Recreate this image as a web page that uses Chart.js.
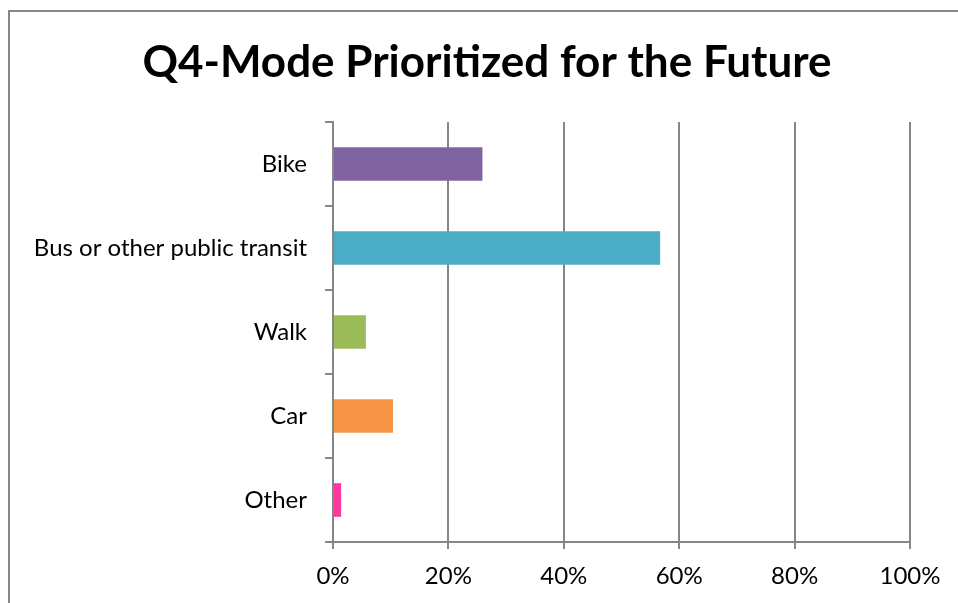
<!DOCTYPE html>
<html>
<head>
<meta charset="utf-8">
<script src="https://cdn.jsdelivr.net/npm/chart.js@4/dist/chart.umd.min.js"></script>
<style>
    html, body { margin: 0; padding: 0; background: #fff; overflow: hidden; }
    #wrap { position: relative; width: 958px; height: 603px; }
    #frame {
        position: absolute; left: 8px; top: 10px; width: 1000px; height: 700px;
        border-left: 2px solid #868686; border-top: 2px solid #868686;
    }
    canvas { position: absolute; left: 0; top: 0; }
</style>
</head>
<body>
<div id="wrap">
    <div id="frame"></div>
    <canvas id="modeChart" width="958" height="603"></canvas>
</div>
<script>
var categories = ['Bike', 'Bus or other public transit', 'Walk', 'Car', 'Other'];
var shares = [25.9, 56.7, 5.7, 10.4, 1.4];
var barColors = ['#8064A2', '#4BACC6', '#9BBB59', '#F79646', '#FF379F'];
var xTicks = [0, 20, 40, 60, 80, 100];
var chartTitle = 'Q4-Mode Prioritized for the Future';

document.addEventListener('DOMContentLoaded', function () {
    var gridColor = '#868686';

    // title is centred on the whole chart box, not on the plot area
    var titlePlugin = {
        id: 'boxTitle',
        afterDraw: function (chart) {
            var c = chart.ctx;
            c.save();
            c.fillStyle = '#000';
            c.font = 'bold 44px Lato';
            c.textAlign = 'center';
            c.textBaseline = 'middle';
            c.fillText(chartTitle, 487, 63);
            c.restore();
        }
    };

    var ctx = document.getElementById('modeChart').getContext('2d');
    var modeChart = new Chart(ctx, {
        type: 'bar',
        data: {
            labels: categories,
            datasets: [{
                label: 'Q4',
                data: shares,
                backgroundColor: barColors,
                borderWidth: 0,
                categoryPercentage: 1,
                barPercentage: 0.4
            }]
        },
        options: {
            indexAxis: 'y',
            responsive: false,
            animation: false,
            layout: { padding: { left: 0, right: 48, top: 122, bottom: 0 } },
            plugins: {
                legend: { display: false },
                tooltip: { enabled: false },
                title: { display: false }
            },
            scales: {
                x: {
                    min: 0,
                    max: 100,
                    afterBuildTicks: function (scale) {
                        scale.ticks = xTicks.map(function (v) { return { value: v }; });
                    },
                    afterFit: function (scale) { scale.height = 61; },
                    grid: { color: gridColor, lineWidth: 2, tickLength: 7 },
                    border: { color: gridColor, width: 2 },
                    ticks: {
                        color: '#000',
                        padding: 13,
                        font: { family: 'Lato', size: 24 },
                        callback: function (v) { return v + '%'; }
                    }
                },
                y: {
                    afterFit: function (scale) { scale.width = 333; },
                    grid: { display: true, drawOnChartArea: false, offset: true, color: gridColor, lineWidth: 2, tickLength: 8 },
                    border: { color: gridColor, width: 2 },
                    ticks: {
                        color: '#000',
                        padding: 18,
                        font: { family: 'Lato', size: 24 }
                    }
                }
            }
        },
        plugins: [titlePlugin]
    });
});
</script>
</body>
</html>
